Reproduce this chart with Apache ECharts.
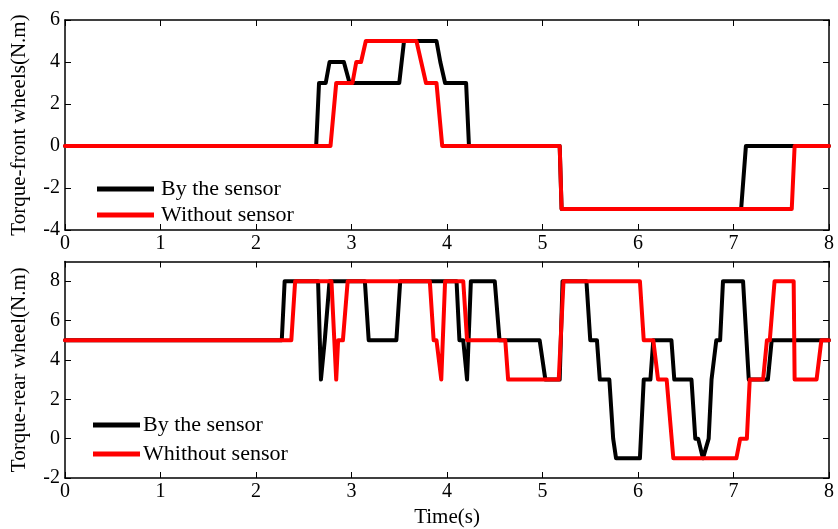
<!DOCTYPE html>
<html>
<head>
<meta charset="utf-8">
<script src="https://cdn.jsdelivr.net/npm/echarts@6/dist/echarts.min.js"></script>
<style>
  html, body { margin: 0; padding: 0; background: #fff; }
  #chart { width: 838px; height: 529px; }
</style>
</head>
<body>
<div id="chart"></div>
<script>
// Front-wheel torque (N.m) versus time (s)
var frontSensorT = [0, 2.63, 2.66, 2.73, 2.77, 2.92, 2.98, 3.50, 3.55, 3.89, 3.93, 3.95, 3.98, 4.20, 4.23, 5.18, 5.20, 7.08, 7.13, 8];
var frontSensorV = [0, 0, 3, 3, 4, 4, 3, 3, 5, 5, 4, 4, 3, 3, 0, 0, -3, -3, 0, 0];
var frontNoSensorT = [0, 2.78, 2.84, 3.01, 3.05, 3.10, 3.15, 3.68, 3.73, 3.74, 3.78, 3.89, 3.95, 5.18, 5.20, 7.61, 7.64, 8];
var frontNoSensorV = [0, 0, 3, 3, 4, 4, 5, 5, 4, 4, 3, 3, 0, 0, -3, -3, 0, 0];

// Rear-wheel torque (N.m) versus time (s)
var rearSensorT = [0, 2.27, 2.30, 2.65, 2.68, 2.72, 2.73, 2.77, 3.14, 3.18, 3.47, 3.51, 4.10, 4.13, 4.17, 4.21, 4.25,
  4.50, 4.55, 4.97, 5.03, 5.18, 5.21, 5.46, 5.50, 5.57, 5.60, 5.70, 5.74, 5.77, 6.02, 6.06, 6.13, 6.16, 6.35, 6.38,
  6.56, 6.60, 6.63, 6.68, 6.70, 6.74, 6.77, 6.82, 6.86, 6.89, 7.10, 7.16, 7.36, 7.40, 8];
var rearSensorV = [5, 5, 8, 8, 3, 5, 5, 8, 8, 5, 5, 8, 8, 5, 5, 3, 8,
  8, 5, 5, 3, 3, 8, 8, 5, 5, 3, 3, 0, -1, -1, 3, 3, 5, 5, 3,
  3, 0, 0, -1, -1, 0, 3, 5, 5, 8, 8, 3, 3, 5, 5];
var rearNoSensorT = [0, 2.37, 2.41, 2.79, 2.82, 2.84, 2.86, 2.91, 2.96, 3.82, 3.86, 3.89, 3.94, 3.98, 4.17, 4.21,
  4.61, 4.64, 5.17, 5.22, 6.02, 6.06, 6.16, 6.21, 6.30, 6.37, 7.03, 7.07, 7.14, 7.17, 7.31, 7.35, 7.38, 7.43,
  7.63, 7.64, 7.87, 7.92, 8];
var rearNoSensorV = [5, 5, 8, 8, 5, 3, 5, 5, 8, 8, 5, 5, 3, 8, 8, 5,
  5, 3, 3, 8, 8, 5, 5, 3, 3, -1, -1, 0, 0, 3, 3, 5, 5, 8,
  8, 3, 3, 5, 5];

var xTicks = [0, 1, 2, 3, 4, 5, 6, 7, 8];

function pairs(t, v) {
  return t.map(function (x, i) { return [x, v[i]]; });
}

var FONT = "'Liberation Serif', 'Times New Roman', serif";
var axisLine = { show: true, onZero: false, lineStyle: { color: '#000', width: 1.5 } };
var tickIn = { show: true, inside: true, length: 6, lineStyle: { color: '#000', width: 1 } };
var labelStyle = { color: '#000', fontFamily: FONT, fontSize: 20 };
var nameStyle = { color: '#000', fontFamily: FONT, fontSize: 21 };

function xAxisPair(gridIndex, withName) {
  var main = {
    type: 'value', gridIndex: gridIndex, position: 'bottom',
    min: xTicks[0], max: xTicks[xTicks.length - 1], interval: 1,
    axisLine: axisLine, axisTick: tickIn, splitLine: { show: false },
    axisLabel: Object.assign({ margin: 4 }, labelStyle)
  };
  if (withName) {
    main.name = 'Time(s)';
    main.nameLocation = 'middle';
    main.nameGap = 29;
    main.nameTextStyle = nameStyle;
  }
  var top = {
    type: 'value', gridIndex: gridIndex, position: 'top',
    min: xTicks[0], max: xTicks[xTicks.length - 1], interval: 1,
    axisLine: axisLine, axisTick: tickIn, axisLabel: { show: false }, splitLine: { show: false }
  };
  return [main, top];
}

function yAxisPair(gridIndex, min, max, name) {
  var main = {
    type: 'value', gridIndex: gridIndex, position: 'left',
    min: min, max: max, interval: 2,
    name: name, nameLocation: 'middle', nameGap: 35,
    nameTextStyle: nameStyle,
    axisLine: axisLine, axisTick: tickIn, splitLine: { show: false },
    axisLabel: Object.assign({ margin: 5, showMaxLabel: max % 2 === 0 }, labelStyle)
  };
  var right = {
    type: 'value', gridIndex: gridIndex, position: 'right',
    min: min, max: max, interval: 2,
    axisLine: axisLine, axisTick: tickIn, axisLabel: { show: false }, splitLine: { show: false }
  };
  return [main, right];
}

function lineSeries(name, color, xi, yi, data) {
  return {
    type: 'line', name: name, xAxisIndex: xi, yAxisIndex: yi,
    data: data, showSymbol: false, symbol: 'none',
    lineStyle: { color: color, width: 4, join: 'round', cap: 'round' },
    itemStyle: { color: color }
  };
}

var chart = echarts.init(document.getElementById('chart'), null, { renderer: 'canvas' });
chart.setOption({
  animation: false,
  backgroundColor: '#fff',
  grid: [
    { left: 65, top: 20, width: 764, height: 210 },
    { left: 65, top: 261.5, width: 764, height: 219.5 }
  ],
  xAxis: xAxisPair(0, false).concat(xAxisPair(1, true)),
  yAxis: yAxisPair(0, -4, 6, 'Torque-front wheels(N.m)').concat(yAxisPair(1, -2, 9, 'Torque-rear wheel(N.m)')),
  legend: [
    {
      data: ['By the sensor', 'Without sensor'],
      orient: 'vertical', left: 92, top: 173, itemGap: 4,
      itemWidth: 57, itemHeight: 5, icon: 'rect',
      textStyle: { color: '#000', fontFamily: FONT, fontSize: 22, padding: [0, 0, 0, 2] }
    },
    {
      data: ['By the sensor', 'Whithout sensor'],
      orient: 'vertical', left: 88, top: 409, itemGap: 7,
      itemWidth: 47, itemHeight: 5, icon: 'rect',
      textStyle: { color: '#000', fontFamily: FONT, fontSize: 22, padding: [0, 0, 0, -2] }
    }
  ],
  series: [
    lineSeries('By the sensor', '#000000', 0, 0, pairs(frontSensorT, frontSensorV)),
    lineSeries('Without sensor', '#ff0000', 0, 0, pairs(frontNoSensorT, frontNoSensorV)),
    lineSeries('By the sensor', '#000000', 2, 2, pairs(rearSensorT, rearSensorV)),
    lineSeries('Whithout sensor', '#ff0000', 2, 2, pairs(rearNoSensorT, rearNoSensorV))
  ]
});
</script>
</body>
</html>
